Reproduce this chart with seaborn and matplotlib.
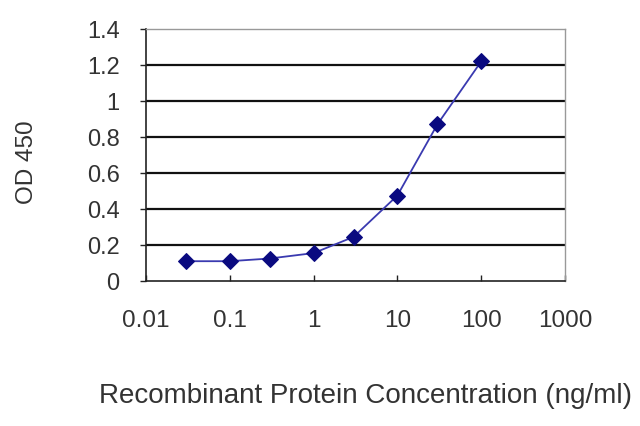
import matplotlib
matplotlib.use("Agg")
import matplotlib.pyplot as plt
import seaborn as sns
import pandas as pd
from matplotlib.ticker import FixedLocator, NullLocator

conc = [0.03, 0.1, 0.3, 1, 3, 10, 30, 100]
od = [0.11, 0.11, 0.125, 0.155, 0.245, 0.475, 0.87, 1.22]
xticks = [0.01, 0.1, 1, 10, 100, 1000]
xticklabels = ["0.01", "0.1", "1", "10", "100", "1000"]
yticks = [0, 0.2, 0.4, 0.6, 0.8, 1, 1.2, 1.4]
yticklabels = ["0", "0.2", "0.4", "0.6", "0.8", "1", "1.2", "1.4"]

df = pd.DataFrame({"conc": conc, "od": od})

sns.set_theme(style="white")
plt.rcParams["font.family"] = ["Liberation Sans", "DejaVu Sans"]

fig = plt.figure(figsize=(6.4, 4.27), dpi=100)
ax = fig.add_axes([146/640, 1 - 282/427, (565-146)/640, (282-30)/427])

sns.lineplot(data=df, x="conc", y="od", ax=ax, color="#3a3ab0", linewidth=1.3,
             marker="D", markersize=8.5, markerfacecolor="#0a0a80",
             markeredgecolor="#0a0a80")
ax.set_xscale("log")
ax.set_xlim(0.01, 1000)
ax.set_ylim(0, 1.4)
ax.xaxis.set_major_locator(FixedLocator(xticks))
ax.xaxis.set_minor_locator(NullLocator())
ax.set_xticklabels(xticklabels)
ax.set_yticks(yticks)
ax.set_yticklabels(yticklabels)

for y in yticks[1:-1]:
    ax.axhline(y, color="#111111", linewidth=1.6, zorder=0)

txt = "#333333"
ax.tick_params(axis="x", direction="in", length=4, width=1, colors="#222222",
               labelsize=17.5, labelcolor=txt, pad=20)
ax.tick_params(axis="y", direction="out", length=4, width=1, colors="#222222",
               labelsize=17, labelcolor=txt, pad=15)
ax.tick_params(bottom=True, left=True)

for s in ["left", "bottom"]:
    ax.spines[s].set_color("#222222")
    ax.spines[s].set_linewidth(1.2)
for s in ["top", "right"]:
    ax.spines[s].set_color("#999999")
    ax.spines[s].set_linewidth(1.0)

ax.set_xlabel("Recombinant Protein Concentration (ng/ml)", fontsize=20,
              color=txt, labelpad=37)
ax.set_ylabel("OD 450", fontsize=17.5, color=txt, labelpad=35)
ax.xaxis.label.set_x(0.525)
ax.yaxis.label.set_y(0.476)

fig.savefig("out.png", dpi=100)
